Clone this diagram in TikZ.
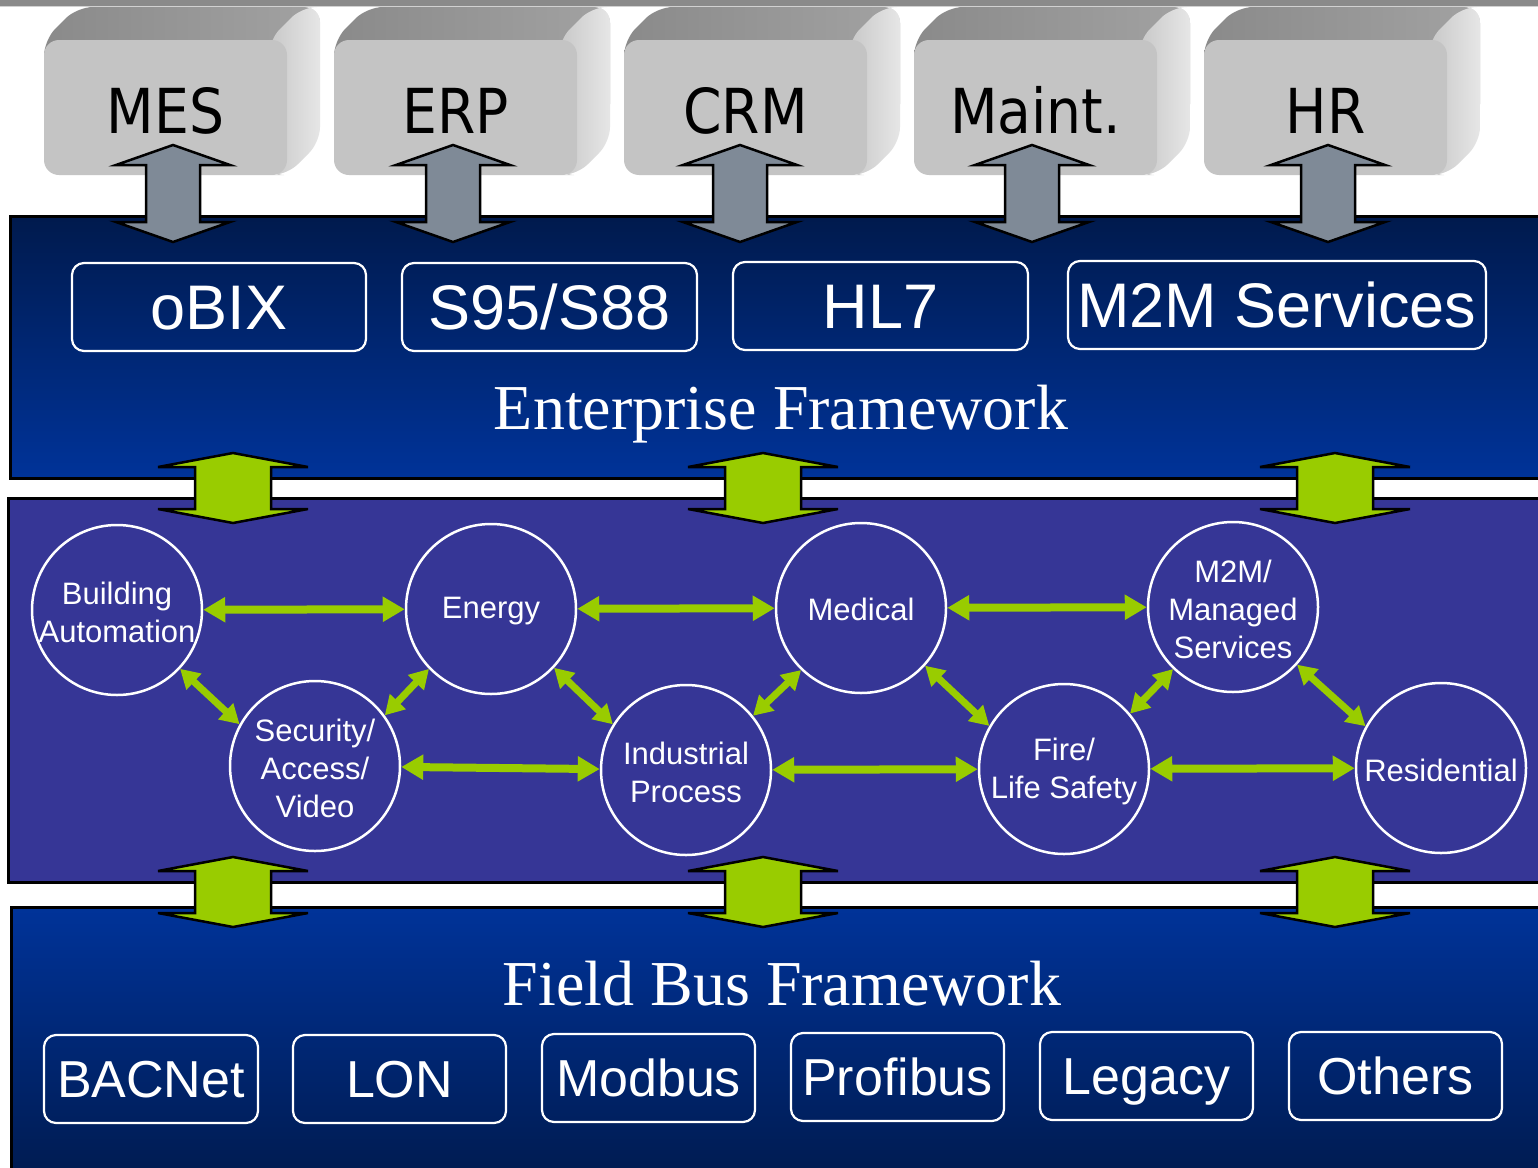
\documentclass[tikz,border=0pt]{standalone}
\usepackage{graphicx}
\usepackage{fontspec}
\setmainfont{Liberation Serif}
\newfontfamily\arialf{Liberation Sans}
\newfontfamily\verdf{DejaVu Sans}
\usetikzlibrary{arrows.meta}
\definecolor{entTop}{HTML}{001A4D}
\definecolor{entBot}{HTML}{003399}
\definecolor{midc}{HTML}{363696}
\definecolor{fbTop}{HTML}{003399}
\definecolor{fbBot}{HTML}{00194A}
\definecolor{grn}{HTML}{99CC00}
\definecolor{arrgray}{HTML}{7F8A97}
\definecolor{boxfront}{HTML}{C4C4C4}
\definecolor{boxtopL}{HTML}{8A8A8A}
\definecolor{boxtopR}{HTML}{A2A2A2}
\definecolor{boxsideL}{HTML}{C8C8C8}
\definecolor{boxsideR}{HTML}{E6E6E6}
\definecolor{barc}{HTML}{8A8A8A}

\newcommand{\AppBox}[3]{%
  \shade[left color=boxtopL, right color=boxtopR, rounded corners=16pt]
    (#1,120) -- (#1,40) -- ({#1+33},7) -- ({#1+276},7) -- ({#1+276},120) -- cycle;
  \shade[left color=boxsideL, right color=boxsideR, rounded corners=15pt]
    ({#1+225},40) -- ({#1+258},7) -- ({#1+276},7) -- ({#1+276},142) -- ({#1+243},175) -- ({#1+225},175) -- cycle;
  \fill[boxfront, rounded corners=15pt] (#1,40) rectangle ({#1+243},175);
  \node[applbl] (#2) at ({#1+121.5},133) {\scalebox{0.89}[1]{#3}};
}
\newcommand{\GrayArr}[1]{%
  \filldraw[blockgr] (#1,145) -- ({#1+57},165) -- ({#1+27},165) -- ({#1+27},222)
    -- ({#1+57},222) -- (#1,242) -- ({#1-57},222) -- ({#1-27},222)
    -- ({#1-27},165) -- ({#1-57},165) -- cycle;
}
\newcommand{\GreenArr}[2]{%
  \filldraw[blockg] (#1,#2) -- ({#1+75},{#2+14}) -- ({#1+38},{#2+14}) -- ({#1+38},{#2+56})
    -- ({#1+75},{#2+56}) -- (#1,{#2+70}) -- ({#1-75},{#2+56}) -- ({#1-38},{#2+56})
    -- ({#1-38},{#2+14}) -- ({#1-75},{#2+14}) -- cycle;
}

\begin{document}
\begin{tikzpicture}[x=1pt,y=-1pt,
  layerbox/.style={draw=black, line width=3pt},
  ebox/.style={draw=white, line width=2.2pt, rounded corners=12pt, inner sep=0pt,
    minimum height=88pt, text=white, font=\arialf\fontsize{63}{63}\selectfont,
    text height=45pt, text depth=0pt},
  fieldbox/.style={ebox, minimum width=213pt, font=\arialf\fontsize{52}{52}\selectfont,
    text height=37pt},
  circ/.style={circle, draw=white, line width=2.5pt, minimum size=170pt, inner sep=0pt},
  ctext/.style={text=white, font=\arialf\fontsize{31}{38}\selectfont, align=center, inner sep=0pt},
  titletext/.style={text=white, font=\fontsize{64}{64}\selectfont, inner sep=0pt, anchor=base},
  applbl/.style={text=black, font=\verdf\fontsize{62}{62}\selectfont, inner sep=0pt, anchor=base},
  garr/.style={draw=grn, line width=8pt, {Triangle[length=22pt,width=24pt]}-{Triangle[length=22pt,width=24pt]}},
  garrd/.style={draw=grn, line width=7pt, {Triangle[length=19pt,width=21pt]}-{Triangle[length=19pt,width=21pt]}},
  blockg/.style={fill=grn, draw=black, line width=2.5pt},
  blockgr/.style={fill=arrgray, draw=black, line width=2.5pt},
]
\useasboundingbox (0,0) rectangle (1538,1167);
\clip (0,0) rectangle (1538,1167);
\fill[white] (0,0) rectangle (1538,1167);

% top bar
\fill[barc] (0,0) rectangle (1538,5.5);
\fill[black!18] (0,5.5) rectangle (1538,7);

% layers
\shade[layerbox, top color=entTop, bottom color=entBot] (10,216) rectangle (1570,478);
\filldraw[layerbox, fill=midc] (8,498) rectangle (1570,882);
\shade[layerbox, top color=fbTop, bottom color=fbBot] (11,907) rectangle (1570,1200);

% application boxes
\AppBox{44}{mes}{MES}
\AppBox{334}{erp}{ERP}
\AppBox{624}{crm}{CRM}
\AppBox{914}{maint}{Maint.}
\AppBox{1204}{hr}{HR}

% gray block arrows
\GrayArr{173}
\GrayArr{453}
\GrayArr{740}
\GrayArr{1032}
\GrayArr{1328}

% enterprise boxes
\node[ebox, minimum width=294pt] (obix) at (219,307) {oBIX};
\node[ebox, minimum width=295pt] (s95) at (549.5,307) {S95/S88};
\node[ebox, minimum width=295pt] (hl7) at (880.5,306) {HL7};
\node[ebox, minimum width=418pt] (m2ms) at (1277,305) {M2M Services};
\node[titletext] (eft) at (781,429) {Enterprise Framework};

% green block arrows
\GreenArr{233}{453}
\GreenArr{763}{453}
\GreenArr{1335}{453}
\GreenArr{233}{857}
\GreenArr{763}{857}
\GreenArr{1335}{857}

% circles
\node[circ] (ba) at (117,610) {};
\node[circ] (en) at (491,609) {};
\node[circ] (med) at (861,608) {};
\node[circ] (m2m) at (1233,607) {};
\node[circ] (sec) at (315,766) {};
\node[circ] (ind) at (686,770) {};
\node[circ] (fire) at (1064,769) {};
\node[circ] (res) at (1441,768) {};

\node[ctext] (ba-t) at (117,612) {Building\\Automation};
\node[ctext] (en-t) at (491,611) {Energy};
\node[ctext] (med-t) at (861,609) {Medical};
\node[ctext] (m2m-t) at (1233,609) {M2M/\\Managed\\Services};
\node[ctext] (sec-t) at (315,768) {Security/\\Access/\\Video};
\node[ctext] (ind-t) at (686,772) {Industrial\\Process};
\node[ctext] (fire-t) at (1064,771) {Fire/\\Life Safety};
\node[ctext] (res-t) at (1441,770) {Residential};

% horizontal connectors
\draw[garr] (ba) -- (en);
\draw[garr] (en) -- (med);
\draw[garr] (med) -- (m2m);
\draw[garr] (sec) -- (ind);
\draw[garr] (ind) -- (fire);
\draw[garr] (fire) -- (res);

% diagonal connectors
\draw[garrd] (ba.-43) -- (sec.151);
\draw[garrd] (sec.36) -- (en.-136);
\draw[garrd] (en.-43) -- (ind.148);
\draw[garrd] (ind.39) -- (med.-134);
\draw[garrd] (med.-42) -- (fire.150);
\draw[garrd] (fire.40) -- (m2m.-134);
\draw[garrd] (m2m.-42) -- (res.151);

% field bus
\node[titletext] (fbt) at (782,1005) {Field Bus Framework};
\node[fieldbox, minimum width=214pt] (bacnet) at (151,1079) {BACNet};
\node[fieldbox] (lon) at (399.5,1079) {LON};
\node[fieldbox] (modbus) at (648.5,1078) {Modbus};
\node[fieldbox] (profibus) at (897.5,1077) {Profibus};
\node[fieldbox] (legacy) at (1146.5,1076) {Legacy};
\node[fieldbox] (others) at (1395.5,1076) {Others};
\end{tikzpicture}
\end{document}
